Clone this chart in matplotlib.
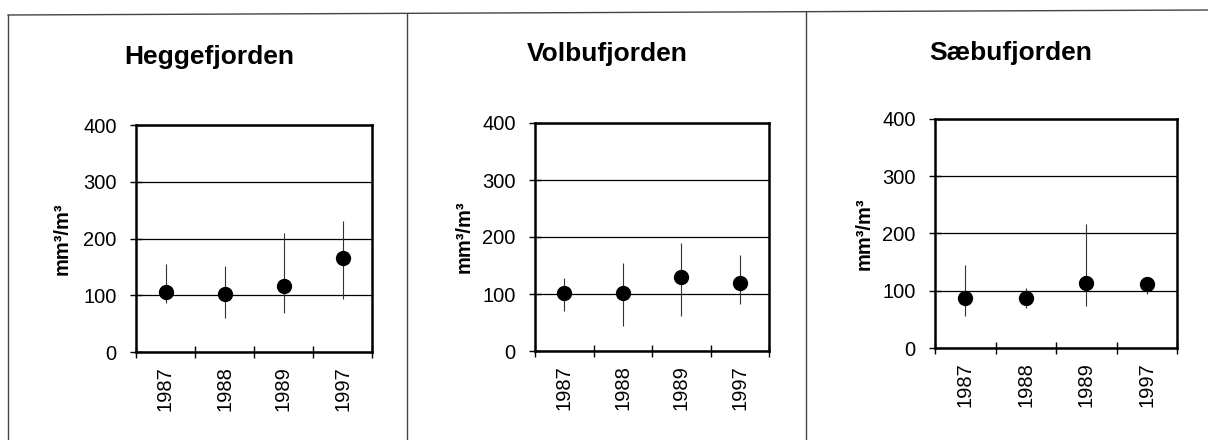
import matplotlib.pyplot as plt
from matplotlib.lines import Line2D

plt.rcParams['font.family'] = ['Liberation Sans', 'DejaVu Sans']

years = ['1987', '1988', '1989', '1997']
lakes = ['Heggefjorden', 'Volbufjorden', 'Sæbufjorden']

# mean and min/max per lake (mm3/m3)
hegge_mean = [105, 103, 116, 166]
hegge_low = [86, 60, 69, 93]
hegge_high = [155, 152, 210, 231]

volbu_mean = [101, 101, 129, 120]
volbu_low = [71, 43, 62, 82]
volbu_high = [128, 154, 189, 169]

saebu_mean = [88, 88, 114, 112]
saebu_low = [56, 69, 74, 94]
saebu_high = [145, 105, 216, 120]

means = [hegge_mean, volbu_mean, saebu_mean]
lows = [hegge_low, volbu_low, saebu_low]
highs = [hegge_high, volbu_high, saebu_high]

W, H = 1208, 440
fig = plt.figure(figsize=(W / 100, H / 100), dpi=100)

# axes boxes in pixels: left, top, right, bottom
boxes = [(136, 125, 372, 352), (535, 123, 769, 351), (935, 119, 1177, 348)]
title_pos = [(209, 57), (607, 54), (1011, 53)]
ylab_x = [62, 464, 864]

for i in range(3):
    l, t, r, b = boxes[i]
    ax = fig.add_axes([l / W, 1 - b / H, (r - l) / W, (b - t) / H])
    x = list(range(1, len(years) + 1))
    m = means[i]
    err = [[m[k] - lows[i][k] for k in range(4)], [highs[i][k] - m[k] for k in range(4)]]
    ax.errorbar(x, m, yerr=err, fmt='o', color='black', ms=10,
                ecolor='#333333', elinewidth=0.8, capsize=0, zorder=3)
    ax.set_xlim(0.5, 4.5)
    ax.set_ylim(0, 400)
    ax.set_yticks([0, 100, 200, 300, 400])
    ax.yaxis.grid(True, color='black', linewidth=0.9)
    ax.set_axisbelow(True)
    ax.set_xticks([0.5, 1.5, 2.5, 3.5, 4.5])
    ax.set_xticklabels([])
    ax.set_xticks(x, minor=True)
    ax.set_xticklabels(years, minor=True, rotation=90, fontsize=14.5)
    ax.tick_params(axis='x', which='minor', length=0, pad=10)
    ax.tick_params(axis='both', which='major', direction='inout', length=8, width=1)
    ax.tick_params(axis='y', labelsize=14.5, pad=10)
    for s in ax.spines.values():
        s.set_linewidth(1.8)
    fig.text(title_pos[i][0] / W, 1 - title_pos[i][1] / H, lakes[i],
             ha='center', va='center', fontsize=19, fontweight='bold')
    fig.text(ylab_x[i] / W, 1 - ((t + b) / 2) / H, 'mm³/m³', rotation=90,
             ha='center', va='center', fontsize=14.5, fontweight='bold')

# panel frame lines
frame = [((8, 15), (1208, 10)), ((8, 15), (8, 440)), ((407, 14), (407, 440)), ((806, 12), (806, 440))]
for (x0, y0), (x1, y1) in frame:
    fig.add_artist(Line2D([x0 / W, x1 / W], [1 - y0 / H, 1 - y1 / H],
                          transform=fig.transFigure, color='#444444', linewidth=1))

fig.savefig('out.png', dpi=100)
